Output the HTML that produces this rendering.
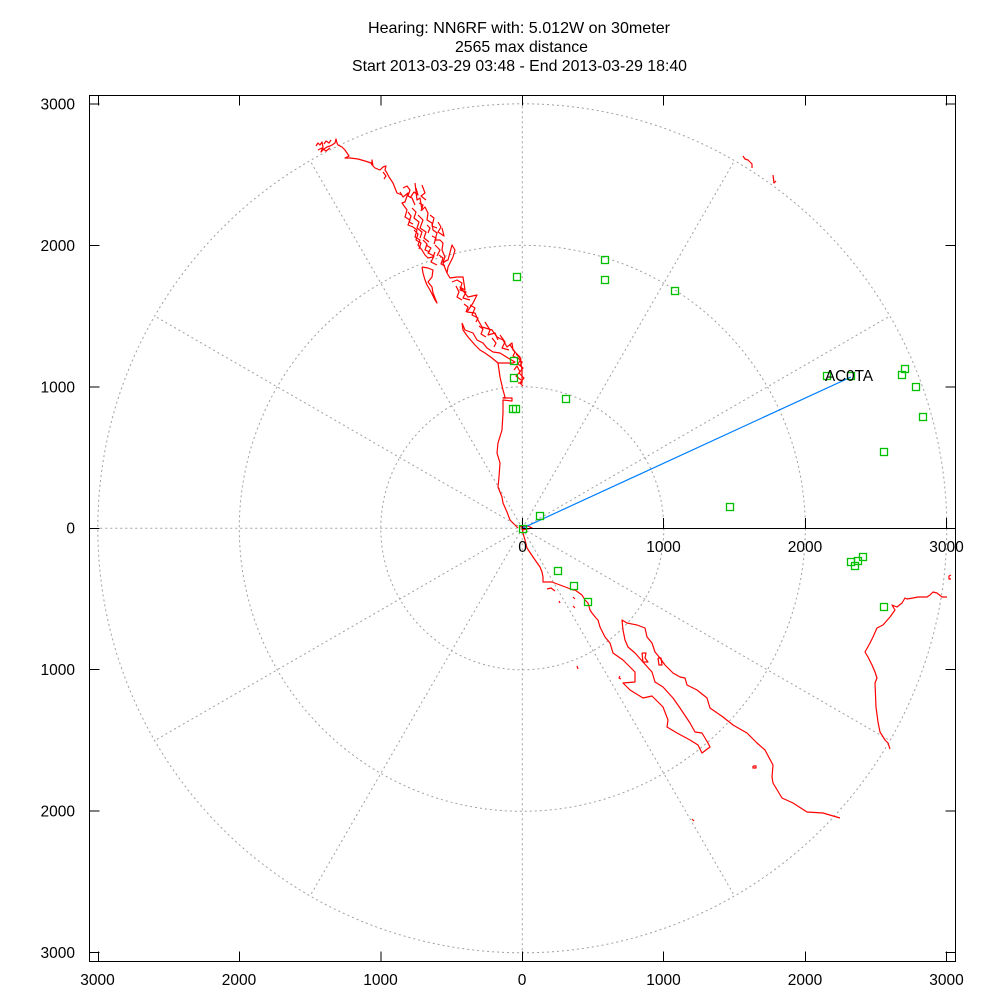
<!DOCTYPE html>
<html>
<head>
<meta charset="utf-8">
<style>
html,body{margin:0;padding:0;background:#fff;}
svg{display:block;}
text{font-family:"Liberation Sans",Arial,sans-serif;fill:#000;}
</style>
</head>
<body>
<svg width="1000" height="1000" viewBox="0 0 1000 1000" xmlns="http://www.w3.org/2000/svg">
<rect width="1000" height="1000" fill="#fff"/>

<!-- Title -->
<text x="519" y="33" font-size="16" text-anchor="middle" textLength="302" lengthAdjust="spacingAndGlyphs">Hearing: NN6RF with: 5.012W on 30meter</text>
<text x="521.5" y="52" font-size="16" text-anchor="middle" textLength="133" lengthAdjust="spacingAndGlyphs">2565 max distance</text>
<text x="519.5" y="71" font-size="16" text-anchor="middle" textLength="335" lengthAdjust="spacingAndGlyphs">Start 2013-03-29 03:48 - End 2013-03-29 18:40</text>

<!-- Polar grid -->
<g fill="none" stroke="#a0a0a0" stroke-width="1" stroke-dasharray="2,3">
  <circle cx="522.3" cy="528.3" r="141.5"/>
  <circle cx="522.3" cy="528.3" r="283"/>
  <circle cx="522.3" cy="528.3" r="424.5"/>
  <line x1="522.3" y1="528.3" x2="97.8" y2="528.3"/>
  <line x1="522.3" y1="528.3" x2="522.3" y2="103.8"/>
  <line x1="522.3" y1="528.3" x2="522.3" y2="952.8"/>
  <line x1="522.3" y1="528.3" x2="889.9" y2="316.1"/>
  <line x1="522.3" y1="528.3" x2="734.5" y2="160.7"/>
  <line x1="522.3" y1="528.3" x2="310.1" y2="160.7"/>
  <line x1="522.3" y1="528.3" x2="154.7" y2="316.1"/>
  <line x1="522.3" y1="528.3" x2="154.7" y2="740.5"/>
  <line x1="522.3" y1="528.3" x2="310.1" y2="895.9"/>
  <line x1="522.3" y1="528.3" x2="734.5" y2="895.9"/>
  <line x1="522.3" y1="528.3" x2="889.9" y2="740.5"/>
</g>

<!-- Coastlines -->
<g fill="none" stroke="#ff0000" stroke-width="1.2" stroke-linejoin="round">
  <!-- Alaska panhandle top -->
  <polyline points="316,146 318,143 320,145 322,142 323,147 321,152 324,149 327,147 330,146 332,145 335,143 336,139 337,143 338,145 342,147 345,150 349,156 345,158 350,158 358,159 365,161 371,163 372,165 372,160 373,166 375,168 380,170 383,167 386,166 385,170 387,173 389,177 393,183 395,188 397,193 402,195"/>
  <polyline points="318,150 322,148 326,151 330,148"/>
  <polyline points="324,144 326,141 329,143 331,140"/>
  <polyline points="383,172 386,176 384,179"/>
  <!-- outer islands edge -->
  <polyline points="400,192 403,197 408,193 405,202 402,203 407,210 405,217 410,220 408,225 413,227 417,230 415,237 420,240 418,245 422,250 425,255 428,258 433,257 435,252"/>
  <!-- inner fjords -->
  <polyline points="415,183 417,200 420,198 422,210 425,207 428,213 427,220 432,223 433,230 437,233 435,240 440,240 443,243 442,250 445,257 443,262 448,260 452,245 455,250 453,257 448,267 447,273"/>
  <polyline points="403,188 407,186 410,190 408,196 412,198 415,205"/>
  <polyline points="412,208 416,212 414,218 419,222 417,228 422,232 420,238"/>
  <polyline points="418,215 423,220 420,228 426,232 424,238 429,242"/>
  <polyline points="426,245 431,248 428,253 434,256 431,262 437,265"/>
  <polyline points="438,222 441,227 438,232 444,236 442,228"/>
  <polyline points="410,198 414,192 418,195 416,188"/>
  <polyline points="422,185 425,193 421,196 426,200"/>
  <polyline points="430,215 434,218 432,226 437,228"/>
  <polyline points="435,245 440,250 437,256"/>
  <polyline points="408,212 411,216 409,222 413,224"/>
  <polyline points="414,230 418,234 416,240 421,243 419,249"/>
  <polyline points="423,240 427,244 425,250 430,252"/>
  <polyline points="432,236 436,238 434,244"/>
  <polyline points="439,255 443,258 441,264 445,266"/>
  <polyline points="419,203 423,205 421,211"/>
  <polyline points="427,225 430,228 428,233"/>
  <!-- Queen Charlotte Is. -->
  <polyline points="422,267 428,268 433,270 432,277 428,282 432,287 433,293 437,303 435,300 430,290 427,285 425,280 423,273 422,267"/>
  <!-- BC mainland coast -->
  <polyline points="447,260 443,263 447,273 450,278 457,277 463,277 465,290 460,287 468,297 477,295 473,303 467,312 475,313 478,320 482,327 492,330 497,337 503,340 507,347 512,343 513,350 520,357 522,370 522,383 518,383"/>
  <polyline points="452,282 457,280 462,283 460,290 466,292 463,298 470,300"/>
  <polyline points="470,305 475,308 472,315 478,318 476,322"/>
  <polyline points="485,322 490,330 488,335 495,333 498,340"/>
  <polyline points="500,335 505,342 502,348 509,350"/>
  <polyline points="510,345 515,352 513,356 517,358"/>
  <polyline points="456,286 459,292 457,297 462,300"/>
  <polyline points="464,304 468,307 466,312"/>
  <polyline points="479,326 483,329 481,334 486,337"/>
  <polyline points="492,338 496,343 494,347"/>
  <!-- Vancouver Island -->
  <polyline points="462,323 465,330 473,333 477,340 483,343 487,348 493,352 500,353 508,358 515,362 513,363 507,363 498,363 492,358 485,353 480,350 475,345 468,337 463,330 462,323"/>
  <!-- Puget sound -->
  <polyline points="516,354 521,359 518,364 523,368 519,373 524,378 520,383 523,386"/>
  <polyline points="514,370 517,366 520,372 516,376 521,380"/>
  <polyline points="518,358 522,362 520,366"/>
  <!-- Washington / Oregon / N. California coast -->
  <polyline points="498,363 500,377 503,390 505,397 503,398 512,398 512,401 503,400 503,413 502,430 498,443 497,453 500,463 499,477 498,487 502,497 503,503 507,512 510,520 515,525 518,528"/>
  <polyline points="519,526 524,527 528,526 532,528 527,529 522,530"/>
  <!-- California / Mexico coast -->
  <polyline points="522,527 523,533 525,540 527,548 533,557 540,567 542,572 543,577 543,582 552,582 560,585 568,588 573,590 575,590 582,595 585,600 588,603 590,610 592,613 596,618 598,620 600,627 605,637 610,643 613,653 623,660 635,672 635,682 623,683 630,690 643,698 652,696 663,707 668,720 667,727 677,733 690,740 698,745 702,753 710,747 708,743 702,733 695,732 690,723 680,708 673,698 663,687 655,682 652,672 643,662 635,653 628,647 625,640 623,630 622,620 627,623 637,625 645,628 647,637 652,643 655,652 660,658 665,665 673,673 680,677 685,678 687,685 697,690 707,698 710,708 723,717 733,725 747,733 757,743 765,750 773,765 772,777 773,783 782,798 793,803 807,812 823,813 840,818"/>
  <!-- small islands -->
  <polyline points="547,589 551,588 555,591"/>
  <polyline points="559,601 560,603"/>
  <polyline points="573,597 575,599"/>
  <polyline points="573,606 575,608"/>
  <polyline points="577,666 578,669"/>
  <polyline points="620,676 619,678 621,679"/>
  <polyline points="642,653 646,653 645,658 648,662 643,662 642,653"/>
  <polyline points="658,658 661,658 662,665 659,665 658,658"/>
  <polyline points="753,766 756,766 756,768 753,768 753,766"/>
  <polyline points="692,819 694,821"/>
  <!-- Gulf coast -->
  <polyline points="947,597 942,597 937,593 933,592 930,595 927,597 918,597 913,598 907,599 905,598 902,603 897,607 892,605 895,610 890,617 883,625 877,628 873,637 870,643 865,652 868,657 872,665 875,672 877,678 875,683 876,707 878,722 880,732 885,740 888,743 890,749"/>
  <polyline points="951,575 949,576 949,579 951,579"/>
  <!-- Great lakes bits -->
  <polyline points="743,156 745,159 748,160 750,162 752,164 752,168"/>
  <polyline points="773,175 774,183 776,181"/>
</g>

<!-- Blue path -->
<line x1="522.3" y1="528.3" x2="851" y2="377" stroke="#0080ff" stroke-width="1.2"/>

<!-- Polar r-axis -->
<g stroke="#000" stroke-width="1">
  <line x1="522.3" y1="528.5" x2="955.5" y2="528.5"/>
  <line x1="522.5" y1="518" x2="522.5" y2="528.5"/>
  <line x1="663.5" y1="518" x2="663.5" y2="528.5"/>
  <line x1="805.5" y1="518" x2="805.5" y2="528.5"/>
  <line x1="946.5" y1="518" x2="946.5" y2="528.5"/>
</g>

<!-- Green squares -->
<g fill="none" stroke="#00c000" stroke-width="1.3">
  <rect x="513.5" y="273.5" width="7" height="7"/>
  <rect x="601.5" y="256.5" width="7" height="7"/>
  <rect x="601.5" y="276.5" width="7" height="7"/>
  <rect x="671.5" y="287.5" width="7" height="7"/>
  <rect x="562.5" y="395.5" width="7" height="7"/>
  <rect x="823.5" y="372.5" width="7" height="7"/>
  <rect x="847.5" y="372.5" width="7" height="7"/>
  <rect x="901.5" y="365.5" width="7" height="7"/>
  <rect x="898.5" y="371.5" width="7" height="7"/>
  <rect x="912.5" y="383.5" width="7" height="7"/>
  <rect x="919.5" y="413.5" width="7" height="7"/>
  <rect x="880.5" y="448.5" width="7" height="7"/>
  <rect x="726.5" y="503.5" width="7" height="7"/>
  <rect x="536.5" y="512.5" width="7" height="7"/>
  <rect x="554.5" y="567.5" width="7" height="7"/>
  <rect x="570.5" y="582.5" width="7" height="7"/>
  <rect x="584.5" y="598.5" width="7" height="7"/>
  <rect x="519.5" y="525.5" width="7" height="7"/>
  <rect x="847.5" y="558.5" width="7" height="7"/>
  <rect x="851.5" y="562.5" width="7" height="7"/>
  <rect x="854.5" y="557.5" width="7" height="7"/>
  <rect x="859.5" y="553.5" width="7" height="7"/>
  <rect x="880.5" y="603.5" width="7" height="7"/>
  <rect x="510.5" y="374.5" width="7" height="7"/>
  <rect x="510.5" y="357.5" width="7" height="7"/>
  <rect x="509.5" y="405.5" width="7" height="7"/>
  <rect x="512.5" y="405.5" width="7" height="7"/>
</g>

<!-- AC0TA label -->
<text x="825" y="381" font-size="15.5" textLength="48" lengthAdjust="spacingAndGlyphs">AC0TA</text>

<!-- Border -->
<rect x="89.5" y="95.5" width="866" height="866" fill="none" stroke="#000" stroke-width="1"/>

<!-- Ticks -->
<g stroke="#000" stroke-width="1">
  <line x1="89.5" y1="104" x2="99.5" y2="104"/>
  <line x1="89.5" y1="245.5" x2="99.5" y2="245.5"/>
  <line x1="89.5" y1="387" x2="99.5" y2="387"/>
  <line x1="89.5" y1="528.5" x2="99.5" y2="528.5"/>
  <line x1="89.5" y1="669.5" x2="99.5" y2="669.5"/>
  <line x1="89.5" y1="811" x2="99.5" y2="811"/>
  <line x1="89.5" y1="952.5" x2="99.5" y2="952.5"/>
  <line x1="945.5" y1="104" x2="955.5" y2="104"/>
  <line x1="945.5" y1="245.5" x2="955.5" y2="245.5"/>
  <line x1="945.5" y1="387" x2="955.5" y2="387"/>
  <line x1="945.5" y1="528.5" x2="955.5" y2="528.5"/>
  <line x1="945.5" y1="669.5" x2="955.5" y2="669.5"/>
  <line x1="945.5" y1="811" x2="955.5" y2="811"/>
  <line x1="945.5" y1="952.5" x2="955.5" y2="952.5"/>
  <line x1="98.5" y1="961.5" x2="98.5" y2="951.5"/>
  <line x1="239.5" y1="961.5" x2="239.5" y2="951.5"/>
  <line x1="381" y1="961.5" x2="381" y2="951.5"/>
  <line x1="522.5" y1="961.5" x2="522.5" y2="951.5"/>
  <line x1="663.5" y1="961.5" x2="663.5" y2="951.5"/>
  <line x1="805.5" y1="961.5" x2="805.5" y2="951.5"/>
  <line x1="946.5" y1="961.5" x2="946.5" y2="951.5"/>
  <line x1="98.5" y1="95.5" x2="98.5" y2="105.5"/>
  <line x1="239.5" y1="95.5" x2="239.5" y2="105.5"/>
  <line x1="381" y1="95.5" x2="381" y2="105.5"/>
  <line x1="522.5" y1="95.5" x2="522.5" y2="105.5"/>
  <line x1="663.5" y1="95.5" x2="663.5" y2="105.5"/>
  <line x1="805.5" y1="95.5" x2="805.5" y2="105.5"/>
  <line x1="946.5" y1="95.5" x2="946.5" y2="105.5"/>
</g>

<!-- Y tick labels -->
<g font-size="15.5" text-anchor="end">
  <text x="75" y="109.5">3000</text>
  <text x="75" y="251">2000</text>
  <text x="75" y="392.5">1000</text>
  <text x="75" y="533.5">0</text>
  <text x="75" y="675">1000</text>
  <text x="75" y="816.5">2000</text>
  <text x="75" y="958">3000</text>
</g>

<!-- X tick labels -->
<g font-size="15.5" text-anchor="middle">
  <text x="97.5" y="985">3000</text>
  <text x="239" y="985">2000</text>
  <text x="380.5" y="985">1000</text>
  <text x="522" y="985">0</text>
  <text x="663.5" y="985">1000</text>
  <text x="805" y="985">2000</text>
  <text x="946.5" y="985">3000</text>
</g>

<!-- R-axis labels -->
<g font-size="15.5" text-anchor="middle">
  <text x="522.5" y="552">0</text>
  <text x="663.5" y="552">1000</text>
  <text x="805" y="552">2000</text>
  <text x="946.5" y="552">3000</text>
</g>
</svg>
</body>
</html>
